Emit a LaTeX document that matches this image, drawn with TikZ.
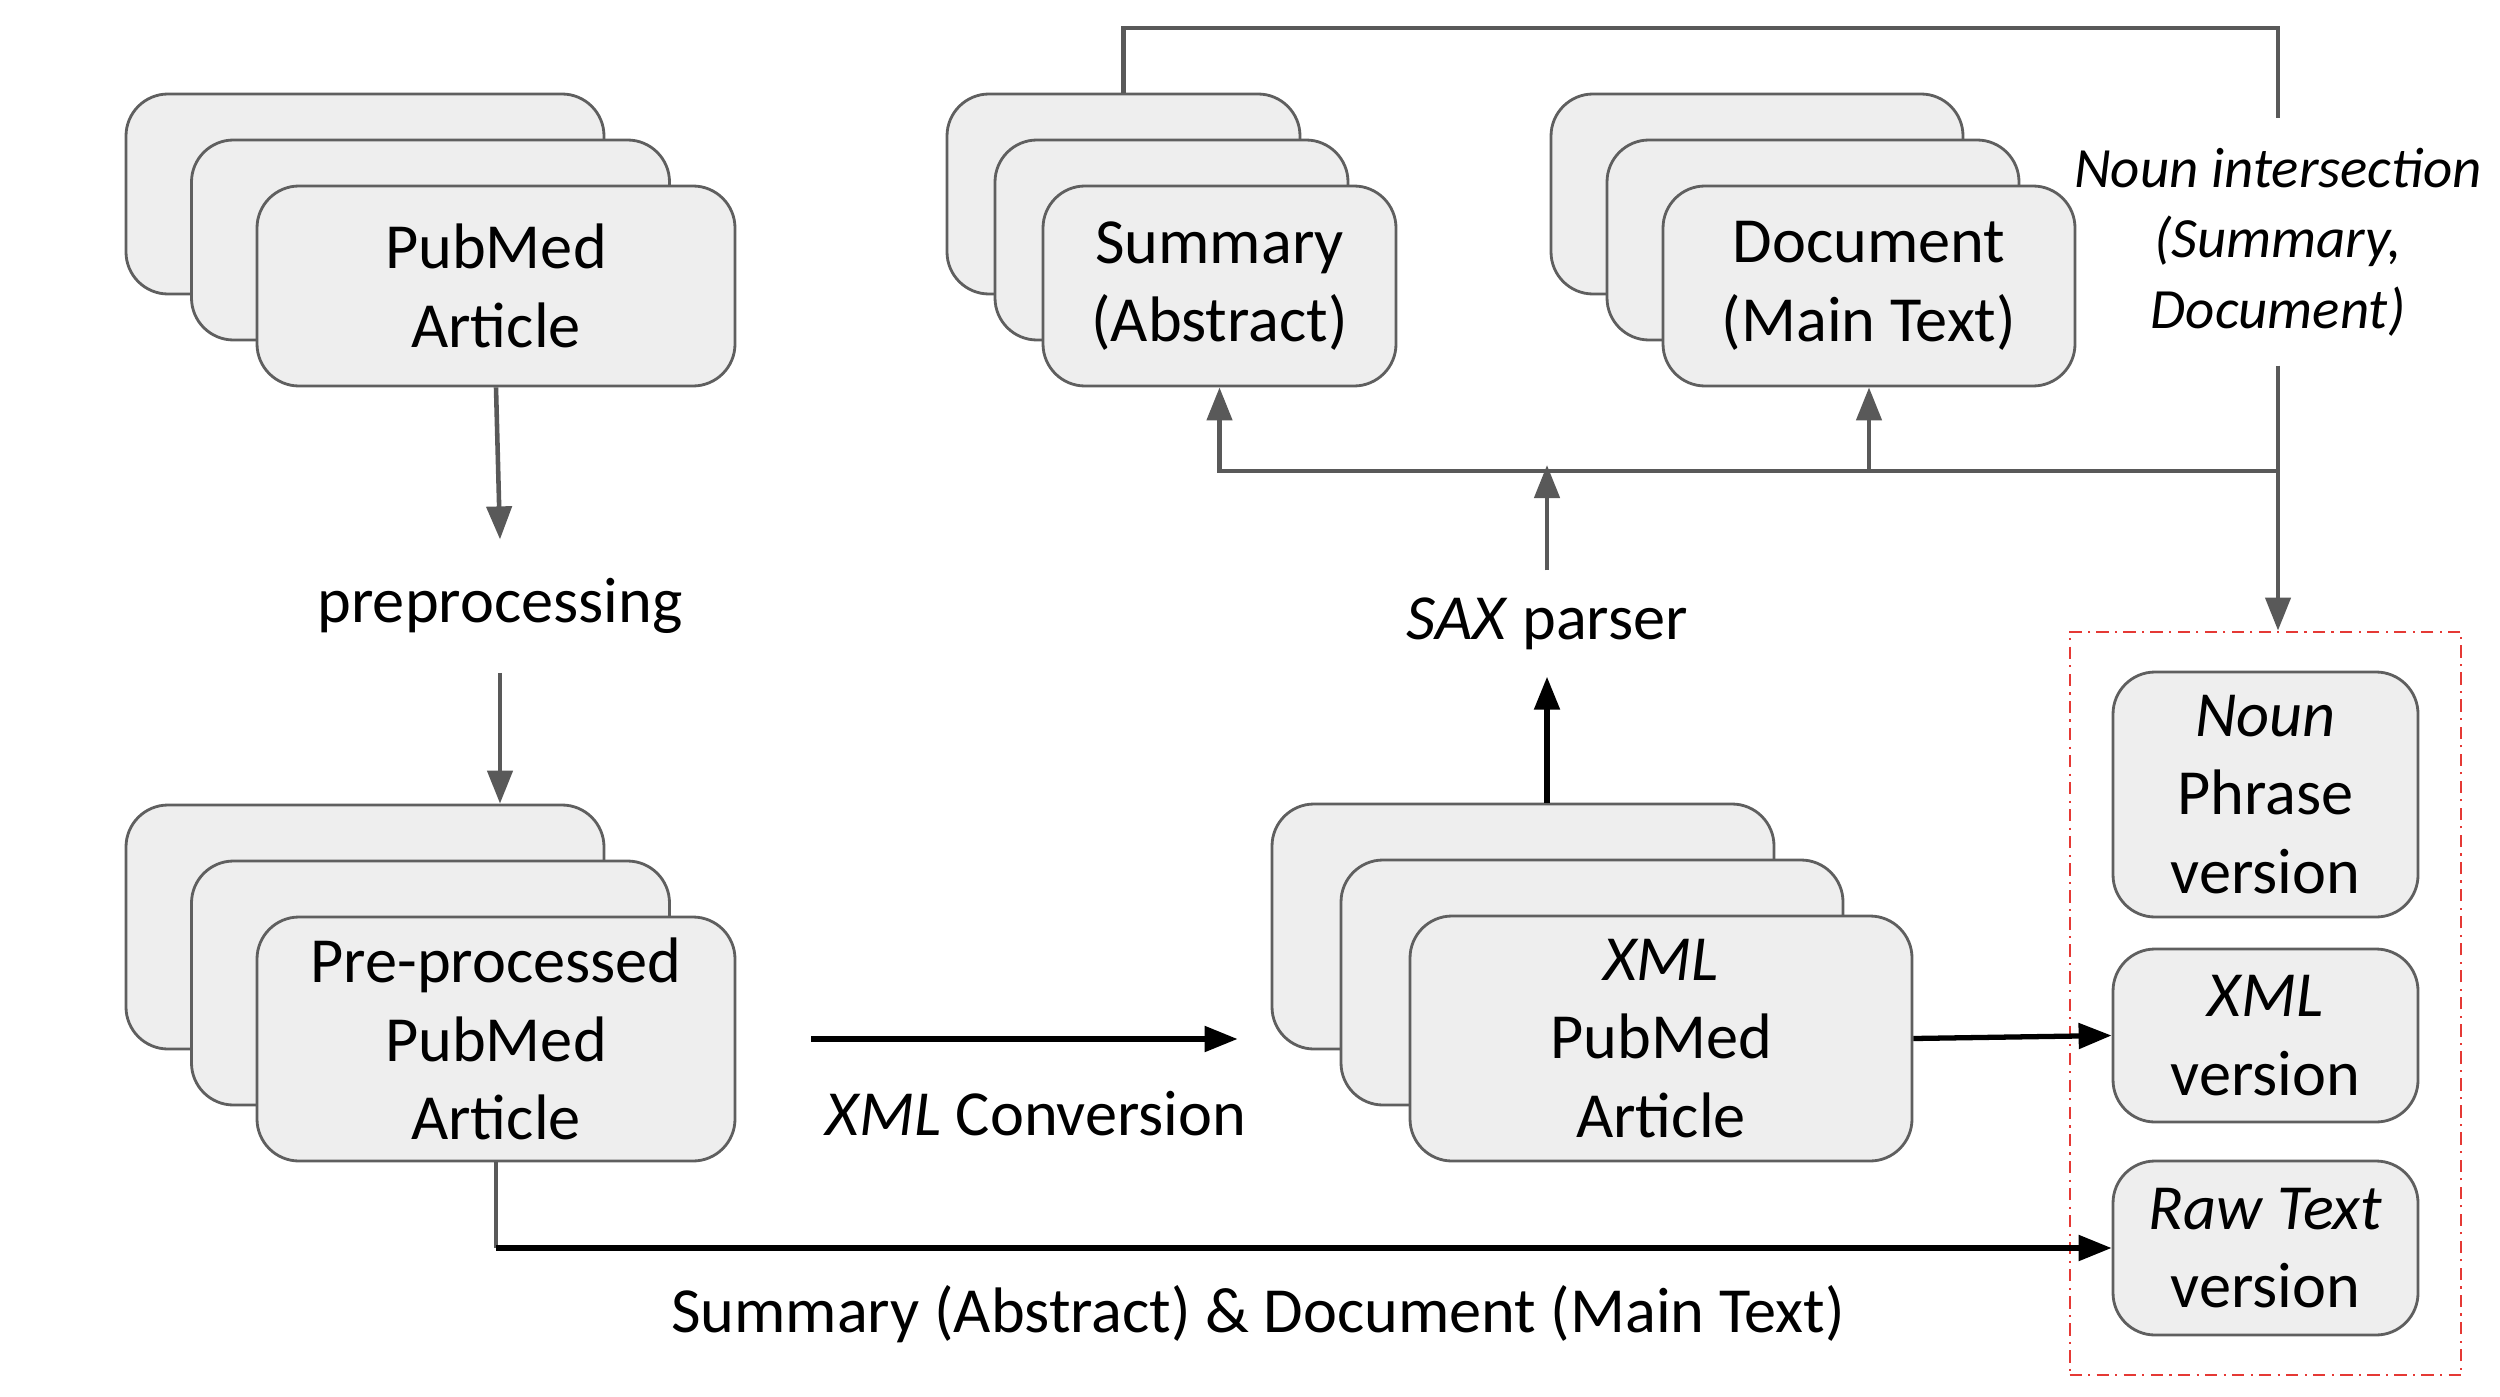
\documentclass[tikz,border=0pt]{standalone}
\usepackage{fontspec}
\setmainfont{Carlito}
\usetikzlibrary{positioning, calc, fit, arrows.meta, backgrounds}
\definecolor{cardfill}{HTML}{EEEEEE}
\definecolor{cardline}{HTML}{5F5F5F}
\definecolor{flowgray}{HTML}{595959}
\definecolor{boxred}{HTML}{E53935}
\pgfdeclarelayer{background}
\pgfsetlayers{background,main}
\tikzset{
  stack/.style={draw=cardline, fill=cardfill, line width=0.8pt, rounded corners=0.42cm, align=center},
  article/.style={stack, minimum width=4.78cm},
  output/.style={stack, minimum width=3.05cm},
  flow/.style={-{Triangle[length=0.33cm, width=0.25cm]}, draw=black, line width=1.5pt},
  gflow/.style={flow, draw=flowgray, line width=1.3pt},
  gline/.style={draw=flowgray, line width=1.3pt},
  group/.style={draw=boxred, line width=0.6pt, dash pattern=on 3.5pt off 1.8pt on 0.6pt off 1.8pt},
  every node/.style={inner sep=0, font=\fontsize{18.3}{22.4}\selectfont}
}

\begin{document}
\begin{tikzpicture}
    \useasboundingbox (0,0) rectangle (25,13.96);
    % top row
    \node[article, minimum height=2cm] (pubfront) at (4.96,11.1) {PubMed\\Article};
    \node[stack, minimum width=3.53cm, minimum height=2cm] (sumfront) at (12.195,11.1) {Summary\\(Abstract)};
    \node[stack, minimum width=4.12cm, minimum height=2cm] (docfront) at (18.69,11.1) {Document\\(Main Text)};
    \begin{scope}[on background layer]
      \node[article, minimum height=2cm] (pubback) at ($(pubfront)+(-1.31,0.92)$) {};
      \node[article, minimum height=2cm] (pubmid) at ($(pubfront)+(-0.655,0.46)$) {};
      \node[stack, minimum width=3.53cm, minimum height=2cm] (sumback) at ($(sumfront)+(-0.96,0.92)$) {};
      \node[stack, minimum width=3.53cm, minimum height=2cm] (summid) at ($(sumfront)+(-0.48,0.46)$) {};
      \node[stack, minimum width=4.12cm, minimum height=2cm] (docback) at ($(docfront)+(-1.12,0.92)$) {};
      \node[stack, minimum width=4.12cm, minimum height=2cm] (docmid) at ($(docfront)+(-0.56,0.46)$) {};
    \end{scope}
    \node[below=1.52cm of pubfront, xshift=0.04cm, minimum height=1.32cm] (prep) {preprocessing};
    % bottom row
    \node[article, minimum height=2.44cm] (prefront) at (4.96,3.57) {Pre-processed\\PubMed\\Article};
    \node[stack, minimum width=5.02cm, minimum height=2.45cm] (xmlfront) at (16.61,3.575) {\textit{XML}\\PubMed\\Article};
    \begin{scope}[on background layer]
      \node[article, minimum height=2.44cm] (preback) at ($(prefront)+(-1.31,1.12)$) {};
      \node[article, minimum height=2.44cm] (premid) at ($(prefront)+(-0.655,0.56)$) {};
      \node[stack, minimum width=5.02cm, minimum height=2.45cm] (xmlback) at ($(xmlfront)+(-1.38,1.12)$) {};
      \node[stack, minimum width=5.02cm, minimum height=2.45cm] (xmlmid) at ($(xmlfront)+(-0.69,0.56)$) {};
    \end{scope}
    \node (conv) at (10.36,2.82) {\textit{XML} Conversion};
    \node (caption) at (12.58,0.82) {Summary (Abstract) \& Document (Main Text)};
    \node[minimum height=1.05cm] (sax) at (15.47,7.725) {\textit{SAX} parser};
    % output versions
    \node[output, minimum height=2.45cm] (nounver) at (22.655,6.015) {\textit{Noun}\\Phrase\\version};
    \node[output, minimum height=1.73cm] (xmlver) at (22.655,3.605) {\textit{XML}\\version};
    \node[output, minimum height=1.74cm] (rawver) at (22.655,1.48) {\textit{Raw Text}\\version};
    \node[group, fit=(nounver)(rawver), inner xsep=0.42cm, inner ysep=0.39cm] (outbox) {};
    \node[align=center, minimum height=2.46cm, font=\fontsize{16.2}{20}\selectfont\itshape] (nounlbl) at (22.78,11.54) {Noun intersection\\(Summary,\\Document)};
    \coordinate (bus) at (22.78,9.25);
    \coordinate (topright) at (22.78,13.68);
    \coordinate (saxtip) at (15.47,9.31);
    % connectors
    \draw[gflow] (pubfront.south) -- (prep.north);
    \draw[gflow] (prep.south) -- (prep.south |- preback.north);
    \draw[flow, shorten <=0.75cm, shorten >=0.33cm] (prefront.east) -- (prefront.east -| xmlback.west);
    \draw[flow] (xmlfront.east) -- (xmlver.west);
    \draw[gline] (prefront.south) -- (prefront.south |- rawver.west);
    \draw[flow] (prefront.south |- rawver.west) -- (rawver.west);
    \draw[flow] (sax.south |- xmlback.north) -- (sax.south);
    \draw[gflow] (sax.north) -- (saxtip);
    \draw[gflow] (bus) -| (sumfront.south);
    \draw[gflow] (docfront.south |- bus) -- (docfront.south);
    \draw[gline] (sumback.north) |- (topright) -- (nounlbl.north);
    \draw[gflow] (nounlbl.south) -- (nounlbl.south |- outbox.north);
\end{tikzpicture}
\end{document}
